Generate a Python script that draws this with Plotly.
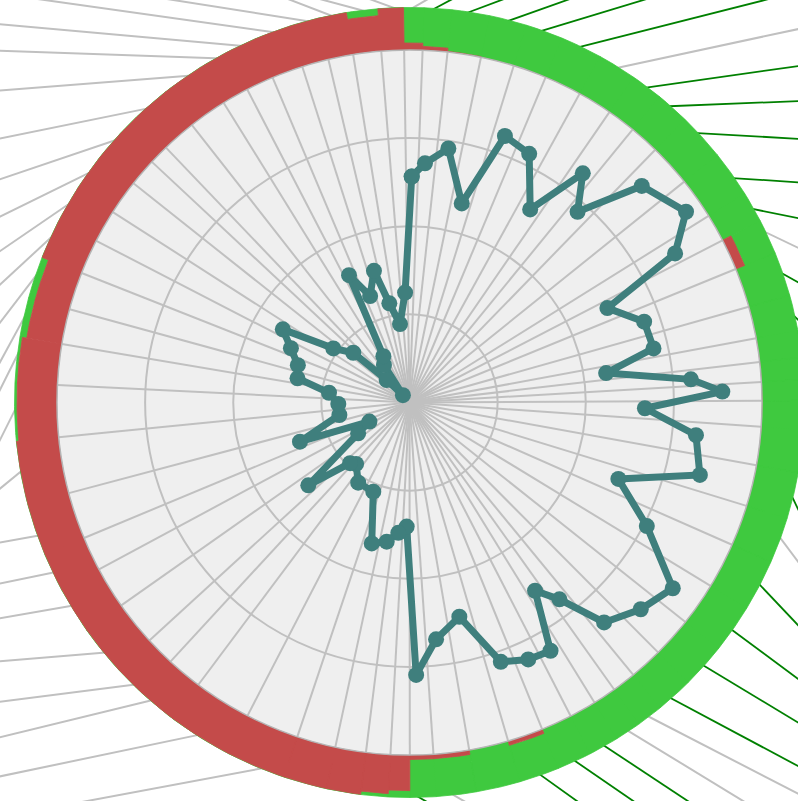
import numpy as np
import plotly.graph_objects as go

# ---- data (angles in degrees, clockwise from north) ----
theta = [0.56, 3.7, 8.7, 14.7, 19.7, 25.7, 32.0, 37.1, 41.4, 47.0, 55.4, 60.7, 64.5, 71.0,
         77.5, 81.5, 85.3, 88.0, 91.4, 96.5, 104.0, 110.1, 117.5, 125.2, 131.8, 138.5, 142.7,
         146.3, 150.4, 155.2, 160.6, 166.9, 173.6, 178.6, 181.3, 184.9, 189.3, 195.0, 202.1,
         212.6, 221.0, 224.4, 230.7, 239.0, 244.5, 250.3, 259.9, 268.8, 276.9, 282.2, 288.5,
         294.6, 300.0, 305.4, 311.5, 314.6, 318.0, 325.8, 330.6, 334.6, 339.7, 344.9, 348.5,
         353.1, 357.7]
values = [64.1, 68.0, 72.9, 58.4, 80.3, 78.3, 64.6, 81.5, 72.1, 90.1, 95.3, 86.4, 62.2, 70.4,
          70.9, 56.4, 80.1, 88.8, 66.8, 81.8, 84.9, 63.1, 75.9, 91.4, 88.0, 83.3, 70.2,
          64.2, 81.0, 80.3, 78.0, 62.4, 67.6, 77.3, 35.2, 37.1, 40.0, 41.4, 27.3,
          27.0, 23.1, 24.1, 37.1, 17.0, 12.6, 33.0, 20.2, 20.2, 23.0, 32.5, 33.4,
          37.0, 41.5, 26.5, 21.3, 9.1, 2.8, 12.9, 15.1, 40.0, 32.2, 38.7, 28.7,
          22.4, 31.2]
# outer ring: red share of the ring (ring is 12 units thick, the rest is green)
ring_red = [2.0, 1.1, 0.2, 0, 0, 0, 0, 0, 0, 0, 0, 0, 2.7, 0,
            0, 0, 0, 0, 0, 0, 0, 0, 0, 0, 0, 0, 0,
            0, 0, 0, 1.3, 0, 1.3, 1.3, 10.1, 11.1, 12, 12, 12,
            12, 12, 12, 12, 12, 12, 12, 12, 11.35, 11.35, 10.1, 10.1,
            12, 12, 12, 12, 12, 12, 12, 12, 12, 12, 12, 12,
            10.1, 12]
# outer leader lines: heading (degrees, clockwise from north) and colour class
spoke_heading = [60, 62, 69.5, 70.4, 73.1, 75.8, 77.9, 81.9, 87.7, 93.3, 93.7, 101.5, 115.6, 119.3,
                 135, 140, 145, 150, 150, 150, 154.5, 143.1, 136.5, 126.5, 121.1, 118.1, 117.3,
                 121.4, 123.5, 124.5, 125.6, 150, 120, 120, 200, 200, 200, 200, 259.4,
                 258.2, 256.3, 262.7, 265.3, 260.1, 258.3, 259.8, 230.7, 206.6, 206.6, 208.5, 217.5,
                 227.2, 235.6, 243.9, 251.3, 255, 258.5, 265.5, 272, 275.1, 278, 279, 291,
                 285, 290]
spoke_kind = ['gray', 'green', 'green', 'green', 'green', 'green', 'gray', 'green', 'green', 'green',
              'green', 'green', 'gray', 'green', 'green', 'green', 'green', 'green', 'green', 'green',
              'green', 'gray', 'green', 'green', 'green', 'green', 'gray', 'gray', 'green', 'green',
              'green', 'none', 'gray', 'green', 'none', 'none', 'none', 'none', 'gray',
              'gray', 'gray', 'gray', 'gray', 'gray', 'gray', 'gray', 'gray', 'gray', 'gray', 'gray',
              'gray', 'gray', 'gray', 'gray', 'gray', 'none', 'gray', 'gray', 'gray', 'gray', 'gray',
              'gray', 'gray', 'gray', 'gray']

R_IN, R_OUT = 100.0, 112.06
PPU = 3.525  # pixels per radial unit

RED, GREEN, TEAL = '#c44b4a', '#3fc93f', '#3f7f7d'

th = np.array(theta)
nxt = np.roll(th, -1)
nxt[-1] += 360
hi = (th + nxt) / 2
lo = np.roll(hi, 1)
lo[0] -= 360


def xy(r, t):
    t = np.radians(t)
    return r * np.sin(t), r * np.cos(t)


def band_polys(r_a_list, r_b_list):
    xs, ys = [], []
    for a, b, ra, rb in zip(lo, hi, r_a_list, r_b_list):
        if rb - ra <= 0.01:
            continue
        ang = np.linspace(a, b, max(4, int((b - a) / 0.4)))
        x1, y1 = xy(ra, ang)
        x2, y2 = xy(rb, ang[::-1])
        xs += list(x1) + list(x2) + [x1[0], None]
        ys += list(y1) + list(y2) + [y1[0], None]
    return xs, ys


fig = go.Figure()

# leader lines (cartesian layer, beneath everything)
for kind, col, w in [('gray', '#c0c0c0', 2.0), ('green', '#008000', 1.8)]:
    xs, ys = [], []
    for t, h, k in zip(theta, spoke_heading, spoke_kind):
        if k != kind:
            continue
        sx, sy = xy(R_OUT, t)
        dx, dy = xy(1.0, h)
        xs += [sx - 4 * dx, sx + 400 * dx, None]
        ys += [sy - 4 * dy, sy + 400 * dy, None]
    fig.add_trace(go.Scatter(x=xs, y=ys, mode='lines', line=dict(color=col, width=w),
                             hoverinfo='skip', showlegend=False))

# ring: red part inside, green part outside
red_top = [R_IN + v for v in ring_red]
gx, gy = band_polys([R_IN + v if v > 0 else 96 for v in ring_red], [R_OUT] * len(theta))
rx, ry = band_polys([96] * len(theta), red_top)
fig.add_trace(go.Scatter(x=gx, y=gy, mode='lines', fill='toself', fillcolor=GREEN,
                         line=dict(color=GREEN, width=0.8), hoverinfo='skip', showlegend=False))
fig.add_trace(go.Scatter(x=rx, y=ry, mode='lines', fill='toself', fillcolor=RED,
                         line=dict(color=RED, width=0.8), hoverinfo='skip', showlegend=False))

# main polar line
fig.add_trace(go.Scatterpolar(theta=theta + theta[:1], r=values + values[:1], mode='lines+markers',
                              line=dict(color=TEAL, width=7), marker=dict(color=TEAL, size=16),
                              showlegend=False))

W, H = 798, 801
CX, CY = 409.5, 402.5
RP = R_IN * PPU
fig.update_layout(
    width=W, height=H, margin=dict(l=0, r=0, t=0, b=0),
    paper_bgcolor='white', plot_bgcolor='rgba(0,0,0,0)', showlegend=False,
    xaxis=dict(domain=[0, 1], range=[-CX / PPU, (W - CX) / PPU], visible=False),
    yaxis=dict(domain=[0, 1], range=[-(H - CY) / PPU, CY / PPU], visible=False),
    polar=dict(
        domain=dict(x=[(CX - RP) / W, (CX + RP) / W], y=[(H - CY - RP) / H, (H - CY + RP) / H]),
        bgcolor='#efefef',
        radialaxis=dict(range=[0, 100], tickvals=[25, 50, 75], showticklabels=False, ticks='',
                        showline=False, gridcolor='#c0c0c0', gridwidth=1.6),
        angularaxis=dict(rotation=90, direction='clockwise', tickvals=list(hi % 360),
                         showticklabels=False, ticks='', showline=True, linecolor='#b5b5b5',
                         linewidth=1.5, gridcolor='#c0c0c0', gridwidth=1.6),
    ),
)
fig.write_html('out.html', config={'displayModeBar': False},
               post_script="document.body.style.margin='0';")
